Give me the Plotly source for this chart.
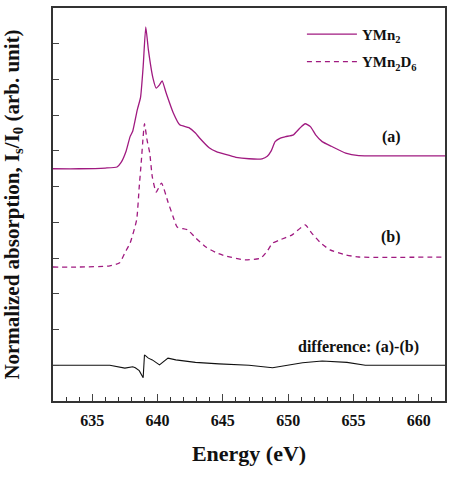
import plotly.graph_objects as go

# Curve (a) YMn2
energy_a = [632.0, 634.0, 636.0, 636.9, 637.2, 637.6, 637.9, 638.1, 638.45, 638.7, 638.9, 639.1,
            639.3, 639.65, 639.9, 640.15, 640.35, 640.66, 641.2, 641.7, 642.4, 642.9, 643.2,
            643.95, 644.5, 645.2, 646.0, 647.0, 648.0, 648.4, 648.7, 649.0, 649.4, 649.8,
            650.4, 650.9, 651.3, 651.7, 652.1, 652.6, 653.3, 654.4, 655.4, 657.0, 660.0, 662.0]
absorb_a = [6.50, 6.50, 6.52, 6.55, 6.67, 7.00, 7.40, 7.55, 8.15, 8.50, 9.36, 10.47,
            9.83, 9.04, 8.76, 8.85, 8.96, 8.62, 8.07, 7.73, 7.65, 7.50, 7.37,
            7.09, 6.98, 6.90, 6.82, 6.78, 6.78, 6.85, 7.00, 7.26, 7.36, 7.40,
            7.45, 7.64, 7.76, 7.68, 7.45, 7.26, 7.13, 6.94, 6.87, 6.86, 6.86, 6.86]

# Curve (b) YMn2D6
energy_b = [632.0, 634.0, 636.35, 637.1, 637.5, 637.9, 638.4, 638.6, 638.75, 638.9, 639.0,
            639.2, 639.4, 639.6, 639.9, 640.3, 640.8, 641.2, 641.5, 642.3, 642.9, 643.7,
            644.5, 645.2, 646.7, 647.9, 648.4, 648.8, 649.3, 650.3, 651.3, 651.8, 652.5,
            653.2, 654.4, 655.4, 662.0]
absorb_b = [3.75, 3.75, 3.78, 3.87, 4.15, 4.42, 5.07, 6.00, 6.67, 7.40, 7.76,
            7.30, 6.95, 6.27, 5.85, 6.10, 5.57, 5.15, 4.87, 4.79, 4.57, 4.31,
            4.15, 4.06, 3.95, 4.00, 4.20, 4.42, 4.50, 4.65, 4.93, 4.70, 4.42,
            4.23, 4.09, 4.03, 4.03]

# Difference (a)-(b), offset
energy_d = [632.0, 636.35, 637.5, 638.1, 638.3, 638.6, 638.9, 639.0, 639.3, 639.6, 640.15,
            640.8, 641.4, 642.9, 644.7, 647.0, 648.8, 649.8, 651.1, 652.6, 654.5, 655.9, 662.0]
absorb_d = [1.00, 1.00, 0.92, 0.96, 0.93, 0.85, 0.65, 1.29, 1.20, 1.15, 1.01,
            1.20, 1.15, 1.08, 1.04, 1.00, 0.93, 1.00, 1.07, 1.12, 1.08, 1.00, 1.00]

x_ticks = [635, 640, 645, 650, 655, 660]
labels = ["(a)", "(b)", "difference: (a)-(b)"]
label_x = [657.9, 657.9, 655.4]
label_y = [7.4, 4.6, 1.52]

MAG = "#a01a80"
FONT = "Liberation Serif"

fig = go.Figure()
fig.add_trace(go.Scatter(x=energy_a, y=absorb_a, mode="lines", name="<b>YMn<sub>2</sub></b>",
                         line=dict(color=MAG, width=1.3, shape="spline", smoothing=0.5),
                         legendgroup="a"))
fig.add_trace(go.Scatter(x=energy_b, y=absorb_b, mode="lines",
                         name="<b>YMn<sub>2</sub>D<sub>6</sub></b>",
                         line=dict(color=MAG, width=1.3, dash="5px,4px", shape="spline", smoothing=0.5),
                         legendgroup="b"))
fig.add_trace(go.Scatter(x=energy_d, y=absorb_d, mode="lines", showlegend=False,
                         line=dict(color="#111111", width=1.1)))

for t, xx, yy in zip(labels, label_x, label_y):
    fig.add_annotation(x=xx, y=yy, text="<b>" + t + "</b>", showarrow=False,
                       font=dict(family=FONT, size=16, color="#111111"))

fig.update_layout(
    width=451, height=477,
    margin=dict(l=53, r=4, t=8, b=76),
    paper_bgcolor="white", plot_bgcolor="white",
    font=dict(family=FONT, color="#111111"),
    legend=dict(x=0.635, y=0.975, xanchor="left", yanchor="top",
                bgcolor="rgba(0,0,0,0)", font=dict(family=FONT, size=15, color="#111111"),
                tracegroupgap=5, traceorder="grouped", itemwidth=50),
)
fig.update_xaxes(range=[632, 662], tickvals=x_ticks, ticktext=["<b>%d</b>" % v for v in x_ticks],
                 ticks="inside", ticklen=7, tickwidth=1.2, ticklabelstandoff=4,
                 showline=True, linecolor="#333333", linewidth=1.5, mirror=True,
                 showgrid=False, zeroline=False,
                 tickfont=dict(family=FONT, size=16, color="#111111", weight="bold"),
                 minor=dict(dtick=1, ticks="inside", ticklen=4, tickcolor="#333333"),
                 title=dict(text="<b>Energy (eV)</b>", font=dict(family=FONT, size=22, color="#111111"),
                            standoff=18))
fig.update_yaxes(range=[0, 11], dtick=1, tick0=0, ticks="inside", ticklen=6, tickwidth=1.2,
                 showticklabels=False,
                 showline=True, linecolor="#333333", linewidth=1.5, mirror=True,
                 showgrid=False, zeroline=False,
                 title=dict(text="<b>Normalized absorption, I<sub>s</sub>/I<sub>0</sub> (arb. unit)</b>",
                            font=dict(family=FONT, size=21, color="#111111"), standoff=26))

fig.write_html("out.html")
